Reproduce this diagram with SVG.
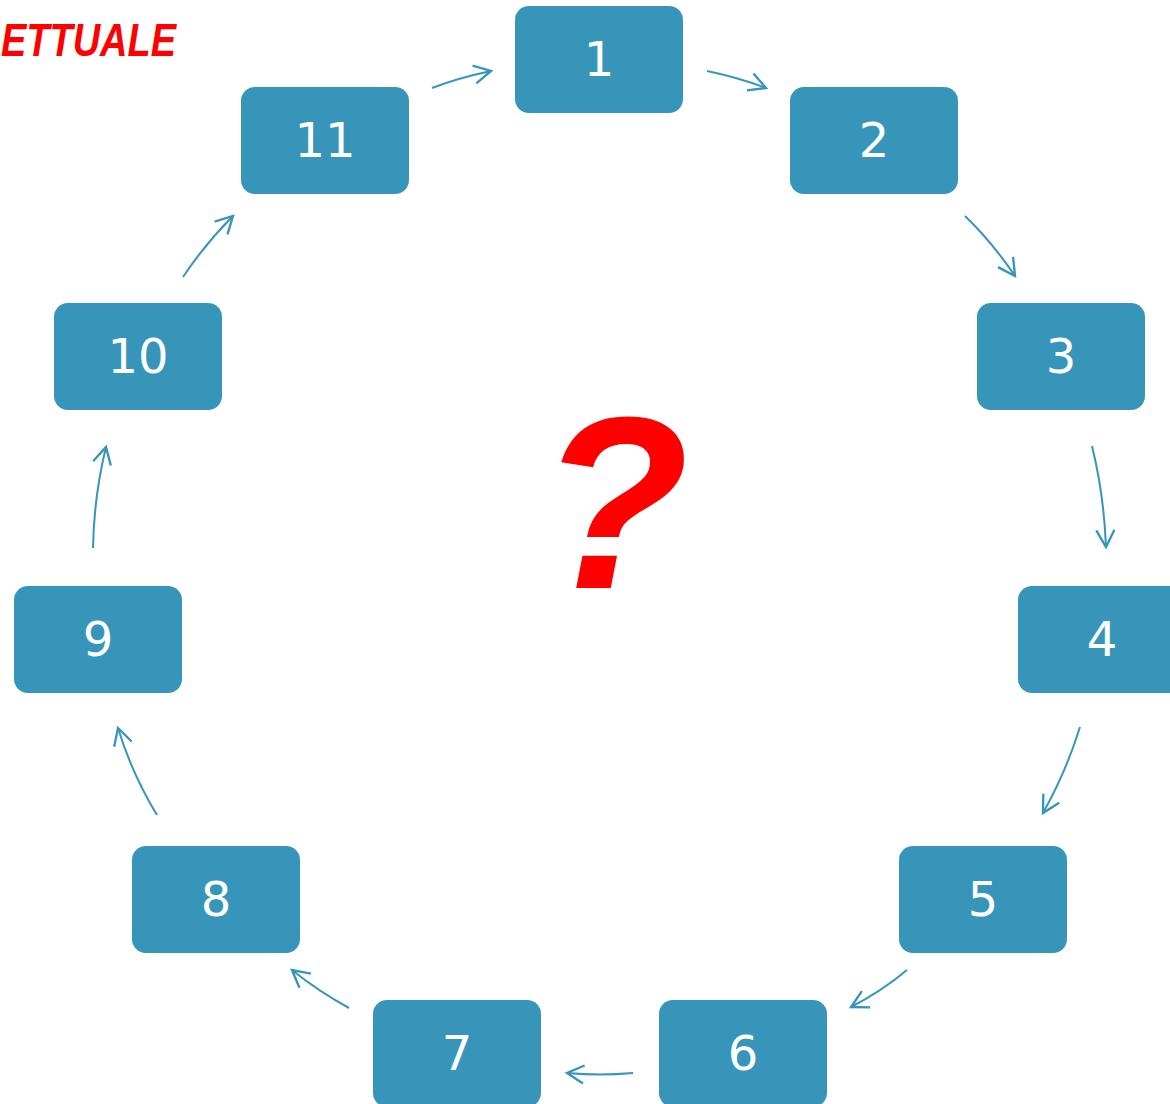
<svg xmlns="http://www.w3.org/2000/svg" width="1170" height="1104" viewBox="0 0 1170 1104">
<defs>
<marker id="ah" markerUnits="userSpaceOnUse" markerWidth="26" markerHeight="26" refX="16" refY="10" orient="auto" viewBox="0 0 20 20">
<path d="M3,3 L16,10 L3,17" fill="none" stroke="#3795BA" stroke-width="1.8"/>
</marker>
</defs>
<style>
.box{fill:#3795BA;}
.lbl{fill:#fff;font-family:"DejaVu Sans",sans-serif;font-size:48px;text-anchor:middle;}
.con{fill:none;stroke:#3795BA;stroke-width:2;marker-end:url(#ah);}
</style>
<rect width="1170" height="1104" fill="#fff"/>
<text x="1" y="56" textLength="175" lengthAdjust="spacingAndGlyphs" font-family="Liberation Sans, sans-serif" font-weight="bold" font-style="italic" font-size="47" fill="#FF0000">ETTUALE</text>
<text x="614" y="588" font-family="Liberation Sans, sans-serif" font-weight="bold" font-style="italic" font-size="245" fill="#FF0000" text-anchor="middle">?</text>
<g id="n1"><rect class="box" x="515" y="6" width="168" height="107" rx="14"/><text class="lbl" x="599" y="76">1</text></g>
<g id="n2"><rect class="box" x="790" y="87" width="168" height="107" rx="14"/><text class="lbl" x="874" y="157">2</text></g>
<g id="n3"><rect class="box" x="977" y="303" width="168" height="107" rx="14"/><text class="lbl" x="1061" y="373">3</text></g>
<g id="n4"><rect class="box" x="1018" y="586" width="168" height="107" rx="14"/><text class="lbl" x="1102" y="656">4</text></g>
<g id="n5"><rect class="box" x="899" y="846" width="168" height="107" rx="14"/><text class="lbl" x="983" y="916">5</text></g>
<g id="n6"><rect class="box" x="659" y="1000" width="168" height="107" rx="14"/><text class="lbl" x="743" y="1070">6</text></g>
<g id="n7"><rect class="box" x="373" y="1000" width="168" height="107" rx="14"/><text class="lbl" x="457" y="1070">7</text></g>
<g id="n8"><rect class="box" x="132" y="846" width="168" height="107" rx="14"/><text class="lbl" x="216" y="916">8</text></g>
<g id="n9"><rect class="box" x="14" y="586" width="168" height="107" rx="14"/><text class="lbl" x="98" y="656">9</text></g>
<g id="n10"><rect class="box" x="54" y="303" width="168" height="107" rx="14"/><text class="lbl" x="138" y="373">10</text></g>
<g id="n11"><rect class="box" x="241" y="87" width="168" height="107" rx="14"/><text class="lbl" x="325" y="157">11</text></g>
<g id="connectors">
<path class="con" d="M432,88 Q458,78 491,71"/>
<path class="con" d="M707,71 Q740,78 766,88"/>
<path class="con" d="M965,216 Q992,242 1015,276"/>
<path class="con" d="M1092,446 Q1104,495 1106,547"/>
<path class="con" d="M1080,727 Q1066,772 1043,813"/>
<path class="con" d="M907,970 Q882,991 851,1007"/>
<path class="con" d="M633,1073 Q600,1076 567,1073"/>
<path class="con" d="M349,1008 Q318,991 292,970"/>
<path class="con" d="M157,815 Q132,774 118,728"/>
<path class="con" d="M93,548 Q94,496 106,447"/>
<path class="con" d="M183,277 Q205,244 233,216"/>
</g>
</svg>
